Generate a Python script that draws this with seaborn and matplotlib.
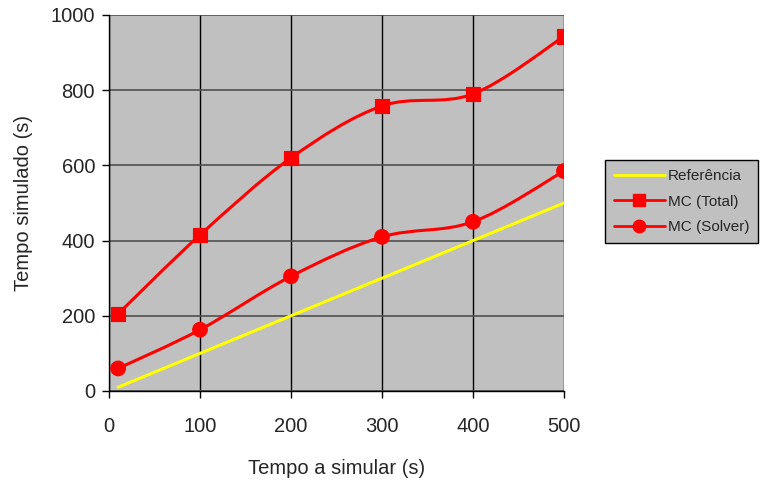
import numpy as np
import pandas as pd
import matplotlib
matplotlib.use("Agg")
import matplotlib.pyplot as plt
from matplotlib.path import Path
from matplotlib.patches import PathPatch
from matplotlib.lines import Line2D
import seaborn as sns

x_vals = [10, 100, 200, 300, 400, 500]
ref_vals = [10, 100, 200, 300, 400, 500]
total_vals = [205, 415, 620, 758, 790, 943]
solver_vals = [60, 163, 305, 410, 450, 585]

series_names = ["Referência", "MC (Total)", "MC (Solver)"]
x_ticks = [0, 100, 200, 300, 400, 500]
y_ticks = [0, 200, 400, 600, 800, 1000]

sns.set_style("white")
plt.rcParams["font.family"] = ["Liberation Sans", "DejaVu Sans"]

fig = plt.figure(figsize=(7.64, 4.83), dpi=100)
ax = fig.add_axes([109 / 764, 1 - 391 / 483, 455 / 764, 376 / 483])
ax.set_facecolor("#C0C0C0")


def smooth_path(xs, ys):
    pts = np.column_stack([xs, ys]).astype(float)
    n = len(pts)
    verts = [pts[0]]
    codes = [Path.MOVETO]
    for i in range(n - 1):
        p0 = pts[i - 1] if i > 0 else pts[i]
        p1 = pts[i]
        p2 = pts[i + 1]
        p3 = pts[i + 2] if i + 2 < n else pts[i + 1]
        c1 = p1 + (p2 - p0) / 6.0
        c2 = p2 - (p3 - p1) / 6.0
        verts += [c1, c2, p2]
        codes += [Path.CURVE4] * 3
    return Path(verts, codes)


df = pd.DataFrame({"x": x_vals * 3,
                   "y": ref_vals + total_vals + solver_vals,
                   "serie": [series_names[0]] * 6 + [series_names[1]] * 6 + [series_names[2]] * 6})

# reference straight line
sns.lineplot(data=df[df.serie == series_names[0]], x="x", y="y", color="#FFFF00",
             linewidth=2.2, ax=ax, legend=False, zorder=3)

# smoothed series
for name in series_names[1:]:
    sub = df[df.serie == name]
    patch = PathPatch(smooth_path(sub.x.values, sub.y.values), facecolor="none",
                      edgecolor="#FF0000", linewidth=2.2, zorder=3, transform=ax.transData)
    ax.add_patch(patch)

sns.scatterplot(data=df[df.serie != series_names[0]], x="x", y="y", style="serie",
                markers={series_names[1]: "s", series_names[2]: "o"},
                color="#FF0000", edgecolor="#FF0000", s=110, ax=ax, legend=False, zorder=4)

ax.set_xlim(0, 500)
ax.set_ylim(0, 1000)
ax.set_xticks(x_ticks)
ax.set_yticks(y_ticks)
ax.tick_params(axis="both", labelsize=14.5, length=5, width=1, color="black",
               direction="out", bottom=True, left=True)
ax.tick_params(axis="x", pad=14)
ax.tick_params(axis="y", pad=5)
ax.grid(True, axis="x", color="black", linewidth=1.0, zorder=1)
ax.grid(True, axis="y", color="#505050", linewidth=1.2, zorder=1)
ax.set_axisbelow(True)
for s in ["top", "right"]:
    ax.spines[s].set_visible(False)
for s in ["left", "bottom"]:
    ax.spines[s].set_color("black")
    ax.spines[s].set_linewidth(1.0)

ax.set_xlabel("Tempo a simular (s)", fontsize=14.5, labelpad=16)
ax.set_ylabel("Tempo simulado (s)", fontsize=14.5, labelpad=13)

handles = [
    Line2D([], [], color="#FFFF00", linewidth=2),
    Line2D([], [], color="#FF0000", linewidth=2, marker="s", markersize=9),
    Line2D([], [], color="#FF0000", linewidth=2, marker="o", markersize=9),
]
leg = fig.legend(handles, series_names, loc="upper left",
                 bbox_to_anchor=(605 / 764, 1 - 160 / 483), fontsize=11,
                 frameon=True, fancybox=False, handlelength=3.3, borderpad=0.6,
                 labelspacing=0.75, handletextpad=0.2, borderaxespad=0)
leg.get_frame().set_facecolor("#C0C0C0")
leg.get_frame().set_edgecolor("black")
leg.get_frame().set_linewidth(1.0)
leg.get_frame().set_alpha(1)

fig.savefig("out.png", dpi=100)
